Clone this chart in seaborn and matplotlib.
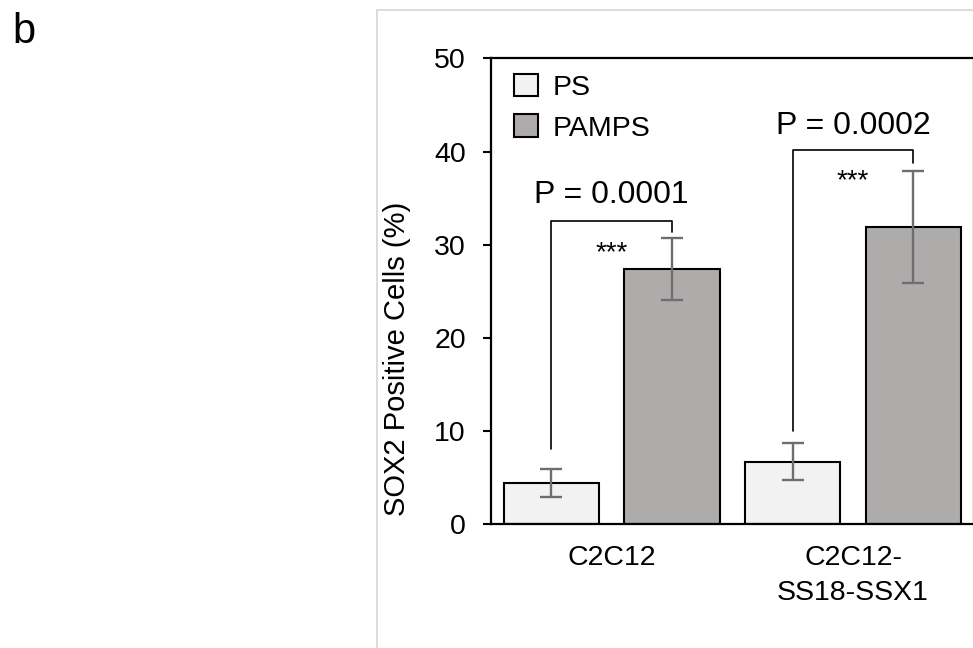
import pandas as pd
import matplotlib
matplotlib.use("Agg")
import matplotlib.pyplot as plt
from matplotlib.patches import Patch, Rectangle
import seaborn as sns

# -------------------------------------------------------------------
# Data
# -------------------------------------------------------------------
cell_lines = ["C2C12", "C2C12-\nSS18-SSX1"]
substrates = ["PS", "PAMPS"]
ps_mean = [4.45, 6.75]
ps_err = [1.5, 1.95]
pamps_mean = [27.4, 31.9]
pamps_err = [3.3, 6.0]
p_labels = ["P = 0.0001", "P = 0.0002"]
stars = ["***", "***"]
# bracket heights: left foot, top, right foot
bracket_left = [8.1, 10.0]
bracket_top = [32.6, 40.2]
bracket_right = [31.4, 38.8]
p_text_y = [34.5, 41.9]
star_y = [29.1, 36.8]

colors = {"PS": "#f2f2f2", "PAMPS": "#aeaaaa"}

df = pd.DataFrame({
    "line": cell_lines * 2,
    "substrate": ["PS"] * 2 + ["PAMPS"] * 2,
    "value": ps_mean + pamps_mean,
    "err": ps_err + pamps_err,
})

# -------------------------------------------------------------------
# Style
# -------------------------------------------------------------------
sns.set_style("ticks")
plt.rcParams["font.family"] = ["Liberation Sans", "DejaVu Sans"]
for key in ["text.color", "axes.labelcolor", "xtick.color", "ytick.color"]:
    plt.rcParams[key] = "black"

fig = plt.figure(figsize=(9.73, 6.48), dpi=100)
ax = fig.add_axes([0.5046, 0.1906, 0.4962, 0.7194])

# panel frame (runs off the right and bottom edges)
frame_top = 1 - 10 / 648
fig.patches.append(Rectangle((377 / 973, -0.1), 0.7, frame_top + 0.1,
                             transform=fig.transFigure, fill=False,
                             edgecolor="#d9d9d9", linewidth=1.3, zorder=0))

sns.barplot(data=df, x="line", y="value", hue="substrate", order=cell_lines,
            hue_order=substrates, palette=colors, width=1.0, gap=0.21,
            edgecolor="black", linewidth=1.5, errorbar=None, legend=False, ax=ax)

# error bars at the bar centres
bars = [p for p in ax.patches if p.get_height() > 0]
for bar, (_, row) in zip(bars, df.iterrows()):
    ax.errorbar(bar.get_x() + bar.get_width() / 2, row["value"], yerr=row["err"],
                fmt="none", ecolor="#6e6e6e", elinewidth=1.7, capsize=8,
                capthick=1.7, zorder=5)

# significance brackets
for i in range(2):
    xl, xr = i - 0.25, i + 0.25
    ax.plot([xl, xl, xr, xr],
            [bracket_left[i], bracket_top[i], bracket_top[i], bracket_right[i]],
            color="black", lw=1.2, zorder=6)
    ax.text(i, p_text_y[i], p_labels[i], ha="center", va="baseline", fontsize=23)
    ax.text(i, star_y[i], stars[i], ha="center", va="center", fontsize=20)

ax.set_xlim(-0.5, 1.5)
ax.set_ylim(0, 50)
ax.set_yticks([0, 10, 20, 30, 40, 50])
ax.set_xlabel("")
ax.set_ylabel("SOX2 Positive Cells (%)", fontsize=21)
ax.yaxis.set_label_coords(-0.165, 0.355)

ax.tick_params(axis="y", length=6, width=1.5, pad=12, labelsize=20.5)
ax.tick_params(axis="x", length=0, pad=15, labelsize=20.5)
for lab in ax.get_xticklabels():
    lab.set_linespacing(1.45)

for side in ["left", "bottom", "top", "right"]:
    ax.spines[side].set_visible(True)
    ax.spines[side].set_linewidth(1.6)
    ax.spines[side].set_color("black")

handles = [Patch(facecolor=colors[s], edgecolor="black", linewidth=1.5, label=s)
           for s in substrates]
ax.legend(handles=handles, loc="upper left", bbox_to_anchor=(0.048, 0.967),
          frameon=False, fontsize=20.5, handlelength=0.85, handleheight=0.85,
          handletextpad=0.5, labelspacing=0.47, borderpad=0, borderaxespad=0)

fig.text(12 / 973, 1 - 43 / 648, "b", fontsize=30, ha="left", va="baseline")

fig.savefig("out.png", dpi=100)
